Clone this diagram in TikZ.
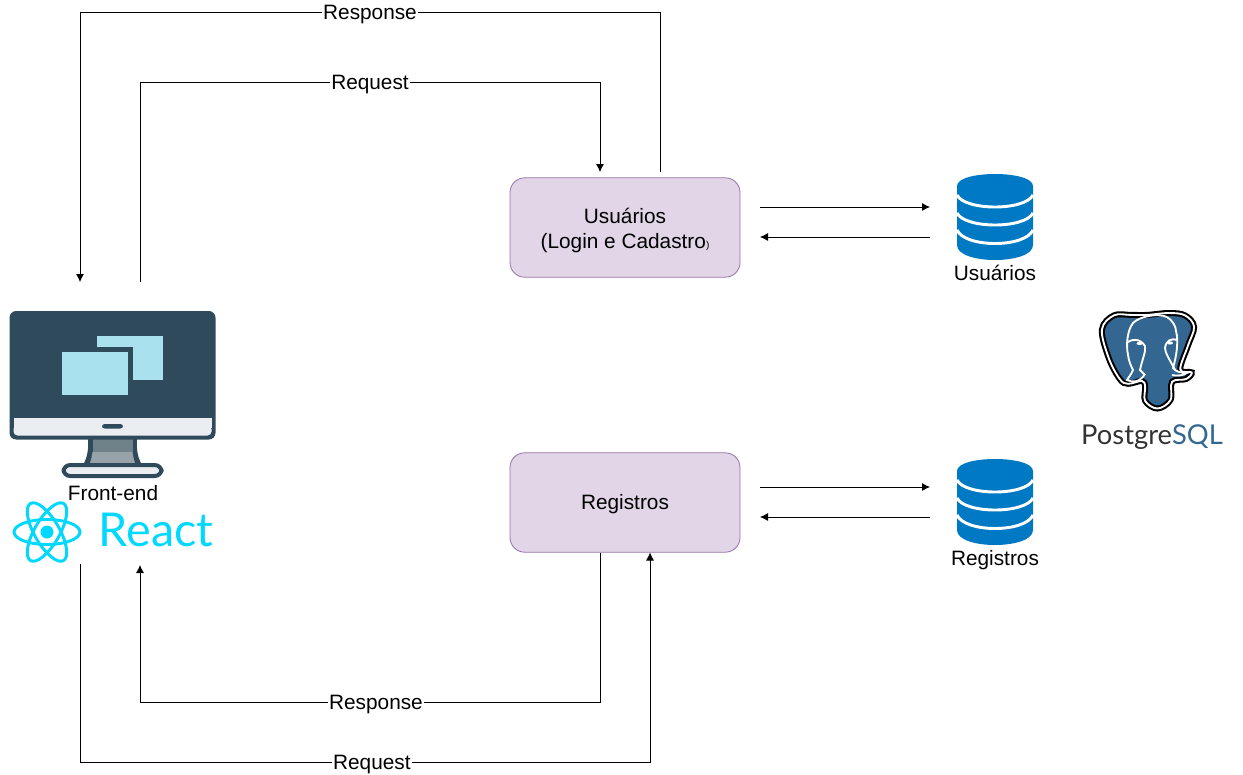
\documentclass[tikz,border=0pt]{standalone}
\usepackage{fontspec}
\setmainfont{Liberation Sans}
\newfontfamily\logofont{Lato}
\usetikzlibrary{arrows.meta}
\definecolor{boxfill}{HTML}{E1D5E7}
\definecolor{boxline}{HTML}{9673A6}
\definecolor{dbblue}{HTML}{0079C4}
\definecolor{pcdark}{HTML}{2F4B5B}
\definecolor{pcwin}{HTML}{A9E2EE}
\definecolor{pclight}{HTML}{EBEEF0}
\definecolor{pcneka}{HTML}{6F8289}
\definecolor{pcnekb}{HTML}{98A3A9}
\definecolor{reactc}{HTML}{00D8FF}
\definecolor{pgblue}{HTML}{336791}
\definecolor{pgtext}{HTML}{333333}
\newcommand{\pgshape}{plot[smooth cycle,tension=.6] coordinates {(1147,312.5) (1130,312.5) (1112,313) (1099.5,328) (1106.7,358) (1118.3,380) (1127,385) (1141.7,382) (1145,388) (1145,403) (1158,411) (1171.7,402) (1173.3,383) (1188,380) (1194,373) (1182,370) (1190,345) (1196.5,325) (1187,313) (1170,310.5)}}
\tikzset{
  txt/.style={font=\fontsize{15.6}{18.75}\selectfont,inner sep=0pt,align=center,text height=13pt,text depth=2.5pt},
  lbl/.style={txt,fill=white,inner xsep=1pt,inner ysep=0pt},
  svc/.style={txt,draw=boxline,fill=boxfill,rounded corners=11pt,line width=0.6pt,minimum width=172.5pt,minimum height=74.5pt},
  conn/.style={-{Latex[length=6pt,width=6pt]},black,line width=0.6pt},
  gap/.style={white,line width=2.2pt},
  orbit/.style={reactc,line width=2.2pt},
  ear/.style={white,line width=1.4pt},
}
\begin{document}
\begin{tikzpicture}[x=0.75pt,y=-0.75pt]
  \useasboundingbox (0,0) rectangle (1243,775);
  % services
  \node[svc,text height=33.3pt,text depth=2.5pt] (usuarios) at (625,227.5) {Usuários\\(Login e Cadastro{\fontsize{7.5}{9}\selectfont)}};
  \node[svc] (registros) at (625,502.5) {Registros};
  % monitor
  \fill[pcdark] (88,436) -- (137,436) .. controls (136,450) and (138,458) .. (142,465) -- (83,465) .. controls (87,458) and (89,450) .. (88,436) -- cycle;
  \fill[pcneka] (92.5,439) rectangle (132.5,452);
  \fill[pcnekb] (92.5,452) -- (132.5,452) .. controls (133,456) and (134,460) .. (135,463) -- (90,463) .. controls (91,460) and (92,456) .. (92.5,452) -- cycle;
  \fill[pcdark,rounded corners=5pt] (9.5,311) rectangle (215.5,439.5);
  \fill[pclight,rounded corners=3pt] (13.5,425) rectangle (211.5,435.5);
  \fill[pclight] (13.5,417.5) rectangle (211.5,428);
  \fill[pcdark,rounded corners=2pt] (102,424) rectangle (123,428.5);
  \fill[pcwin] (97,336) rectangle (163,380);
  \fill[pcdark] (92,347) rectangle (132.5,396);
  \fill[pcwin] (62,352) rectangle (128,395);
  \draw[pcdark,fill=pclight,line width=3pt,rounded corners=5pt] (63.5,465) rectangle (161.5,476);
  \node[txt] (frontend) at (113,493) {Front-end};
  % react logo
  \fill[reactc] (47,532) circle (6.5);
  \draw[orbit] (47,532) ellipse [x radius=33,y radius=12.5];
  \draw[orbit,rotate around={60:(47,532)}] (47,532) ellipse [x radius=33,y radius=12.5];
  \draw[orbit,rotate around={120:(47,532)}] (47,532) ellipse [x radius=33,y radius=12.5];
  \node[inner sep=0pt,text=reactc,font=\logofont\fontsize{35}{35}\selectfont] (react) at (156,530) {React};
  % data stores
  \foreach \n/\dy in {usr/0,reg/285} {
    \fill[dbblue] (957,186+\dy) .. controls (957,170+\dy) and (1033,170+\dy) .. (1033,186+\dy) -- (1033,245+\dy) .. controls (1033,265+\dy) and (957,265+\dy) .. (957,245+\dy) -- cycle;
    \draw[gap] (957,195+\dy) .. controls (965,211+\dy) and (1025,211+\dy) .. (1033,195+\dy);
    \draw[gap] (957,213+\dy) .. controls (965,229+\dy) and (1025,229+\dy) .. (1033,213+\dy);
    \draw[gap] (957,230+\dy) .. controls (965,248+\dy) and (1025,248+\dy) .. (1033,230+\dy);
  }
  \node[txt] (dbusuarios) at (995,273) {Usuários};
  \node[txt] (dbregistros) at (995,558) {Registros};
  % postgres logo
  \begin{scope}[shift={(1148,361)},xscale=.95,yscale=.95,shift={(-1148,-361)}]
    \draw[black,line width=4.5pt,fill=pgblue] \pgshape;
    \draw[ear] \pgshape;
  \end{scope}
  \draw[ear] (1167,317) .. controls (1158,313) and (1140,316) .. (1133,323) .. controls (1127,331) and (1126,345) .. (1128,355)
    .. controls (1129,362) and (1131,366) .. (1133,370) .. controls (1131,375) and (1128,378) .. (1127,380)
    .. controls (1133,383) and (1140,382) .. (1145,374);
  \draw[ear] (1167,317) .. controls (1172,320) and (1176,326) .. (1176,331) .. controls (1179,342) and (1176,358) .. (1173,368)
    .. controls (1176,372) and (1182,373) .. (1187,373) .. controls (1182,376) and (1176,376) .. (1172,375);
  \draw[ear] (1128,342) .. controls (1132,339) and (1140,338) .. (1145,346) .. controls (1146,352) and (1142,360) .. (1140,370) -- (1145,375);
  \draw[ear] (1177,340) .. controls (1172,338) and (1166,340) .. (1165,348) .. controls (1165,353) and (1170,360) .. (1175,370);
  \fill[white] (1139.5,343.5) ellipse [x radius=3,y radius=1.6];
  \fill[white] (1170,343) ellipse [x radius=3,y radius=1.6];
  \node[inner sep=0pt,font=\logofont\fontsize{20.5}{24}\selectfont,text=pgtext] (pgname) at (1152,437) {Postgre\textcolor{pgblue}{SQL}};
  % free ends of the connectors
  \coordinate (frontin) at (80,282);
  \coordinate (frontout) at (140,282);
  \coordinate (reactout) at (80,564);
  \coordinate (reactin) at (140,565);
  \coordinate (usrin) at (600,172);
  \coordinate (usrout) at (660,172);
  \coordinate (regout) at (600,552.5);
  \coordinate (regin) at (650,552.5);
  \coordinate (usrtx) at (760,207);
  \coordinate (usrrx) at (760,237);
  \coordinate (dbusrrx) at (930,207);
  \coordinate (dbusrtx) at (930,237);
  \coordinate (regtx) at (760,487);
  \coordinate (regrx) at (760,517);
  \coordinate (dbregrx) at (930,487);
  \coordinate (dbregtx) at (930,517);
  % connectors
  \draw[conn] (usrout) -- (660,12) -- node[lbl] (resptop) {Response} (80,12) -- (frontin);
  \draw[conn] (frontout) -- (140,82) -- node[lbl] (reqtop) {Request} (600,82) -- (usrin);
  \draw[conn] (regout) -- (600,702) -- node[lbl,pos=.487] (respbot) {Response} (140,702) -- (reactin);
  \draw[conn] (reactout) -- (80,762) -- node[lbl,pos=.512] (reqbot) {Request} (650,762) -- (regin);
  \draw[conn] (usrtx) -- (dbusrrx);
  \draw[conn] (dbusrtx) -- (usrrx);
  \draw[conn] (regtx) -- (dbregrx);
  \draw[conn] (dbregtx) -- (regrx);
\end{tikzpicture}
\end{document}
